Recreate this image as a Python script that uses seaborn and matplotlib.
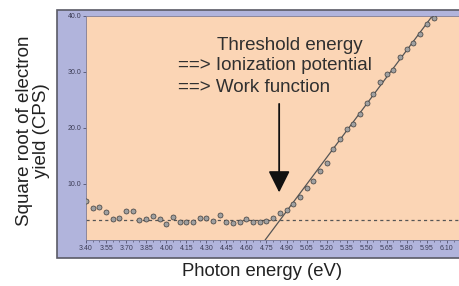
import numpy as np
import pandas as pd
import matplotlib
matplotlib.use('Agg')
import matplotlib.pyplot as plt
from matplotlib.patches import Rectangle
import seaborn as sns

# photoemission yield scan
energy = [3.40, 3.45, 3.50, 3.55, 3.60, 3.65, 3.70, 3.75, 3.80, 3.85,
          3.90, 3.95, 4.00, 4.05, 4.10, 4.15, 4.20, 4.25, 4.30, 4.35,
          4.40, 4.45, 4.50, 4.55, 4.60, 4.65, 4.70, 4.75, 4.80, 4.85,
          4.90, 4.95, 5.00, 5.05, 5.10, 5.15, 5.20, 5.25, 5.30, 5.35,
          5.40, 5.45, 5.50, 5.55, 5.60, 5.65, 5.70, 5.75, 5.80, 5.85,
          5.90, 5.95, 6.00, 6.05]
sqrt_yield = [7.0, 5.8, 5.9, 5.0, 3.75, 3.9, 5.2, 5.2, 3.6, 3.75,
              4.3, 3.75, 2.9, 4.1, 3.15, 3.2, 3.15, 4.0, 4.0, 3.4,
              4.5, 3.2, 3.0, 3.3, 3.7, 3.3, 3.2, 3.45, 3.9, 4.9,
              5.4, 6.5, 7.6, 9.3, 10.6, 12.3, 13.8, 16.2, 18.0, 19.9,
              20.8, 22.5, 24.4, 26.1, 28.3, 29.6, 30.4, 32.7, 34.1, 35.1,
              36.7, 38.6, 39.6, 41.3]

# fitted rise and background level
fit_x = [4.74, 6.10]
fit_y = [0.0, 43.5]
background = 3.6
threshold = 4.845

xticks = [3.40, 3.55, 3.70, 3.85, 4.00, 4.15, 4.30, 4.45, 4.60, 4.75,
          4.90, 5.05, 5.20, 5.35, 5.50, 5.65, 5.80, 5.95, 6.10]
yticks = [10.0, 20.0, 30.0, 40.0]

df = pd.DataFrame({'energy': energy, 'yield': sqrt_yield})
fit = pd.DataFrame({'energy': fit_x, 'yield': fit_y})

sns.set_theme(style='white')
plt.rcParams['font.family'] = ['Liberation Sans', 'DejaVu Sans']

fig = plt.figure(figsize=(4.59, 2.86), dpi=100)

# blue instrument frame behind the plot area
fig.patches.append(Rectangle((57 / 459, 28 / 286), 410 / 459, 248 / 286,
                             transform=fig.transFigure, facecolor='#b1b4dc',
                             edgecolor='#5a5a66', lw=1.2, zorder=-5))

ax = fig.add_axes([86 / 459, 46 / 286, 373 / 459, 224 / 286])
ax.set_zorder(2)
ax.set_facecolor('#fbd5b5')

ax.axhline(background, color='#555555', lw=0.9, ls=(0, (2.5, 2.5)), zorder=1)
sns.lineplot(data=fit, x='energy', y='yield', ax=ax, color='#555555', lw=0.9, zorder=2)
sns.scatterplot(data=df, x='energy', y='yield', ax=ax, s=13, color='#a0a0a0',
                edgecolor='#3c3c3c', linewidth=0.5, zorder=3)

ax.annotate('', xy=(threshold, 8.0), xytext=(threshold, 24.8),
            arrowprops=dict(arrowstyle='-|>,head_length=0.6,head_width=0.3',
                            color='#111111', lw=1.3, mutation_scale=22))

txt_kw = dict(transform=None, fontsize=13.5, color='#303030', va='center', ha='left')
ax.text(217, 286 - 45, 'Threshold energy', **txt_kw)
ax.text(178, 286 - 66, '==> Ionization potential', **txt_kw)
ax.text(178, 286 - 87, '==> Work function', **txt_kw)

ax.set_xlim(3.40, 3.40 + 373 / 133.67)
ax.set_ylim(0, 40)
ax.set_xticks(xticks)
ax.set_xticklabels([f'{t:.2f}' for t in xticks])
ax.set_xticks(np.arange(3.40, 6.19, 0.05), minor=True)
ax.set_yticks(yticks)
ax.set_yticklabels([f'{t:.1f}' for t in yticks])
ax.tick_params(axis='both', labelsize=5, colors='#3c3c55', length=2,
               width=0.5, pad=1.5, direction='out', bottom=True, left=True)
ax.tick_params(axis='x', which='minor', length=1.5, width=0.4, colors='#3c3c55',
               bottom=True)
for s in ax.spines.values():
    s.set_color('#7a7a96')
    s.set_linewidth(0.6)

ax.set_xlabel('')
ax.set_ylabel('')
fig.text(262 / 459, 1 - 271 / 286, 'Photon energy (eV)', fontsize=13.3,
         color='#222222', ha='center', va='center')
fig.text(33 / 459, 1 - 131 / 286, 'Square root of electron\nyield (CPS)',
         fontsize=13.5, color='#222222', ha='center', va='center',
         rotation=90, linespacing=1.0)

fig.savefig('out.png', dpi=100)
